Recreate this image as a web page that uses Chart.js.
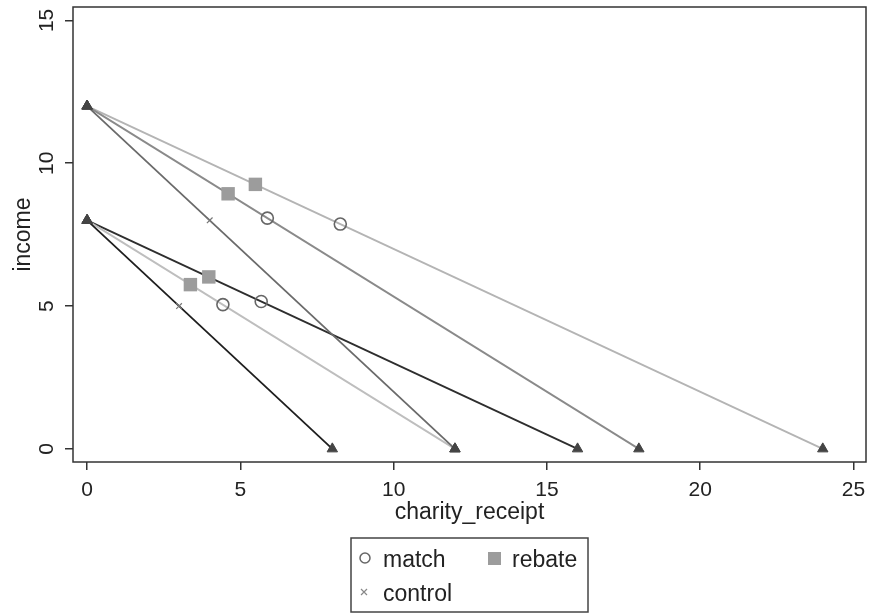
<!DOCTYPE html>
<html>
<head>
<meta charset="utf-8">
<script src="https://cdn.jsdelivr.net/npm/chart.js@4.4.0/dist/chart.umd.min.js"></script>
<style>
  html, body { margin: 0; padding: 0; background: #fff; }
</style>
</head>
<body>
<canvas id="chart" width="870" height="613"></canvas>
<script>
// budget lines: income at charity_receipt = 0, and charity_receipt at income = 0
const lineIncome = [12, 12, 12, 8, 8, 8];
const lineCharity = [12, 18, 24, 8, 12, 16];
const lineColors = ['#6a6a6a', '#8a8a8a', '#b4b4b4', '#1e1e1e', '#bebebe', '#2e2e2e'];

// observed choices
const matchX = [5.88, 8.26, 4.43, 5.68];
const matchY = [8.08, 7.87, 5.05, 5.16];
const rebateX = [4.6, 5.49, 3.37, 3.97];
const rebateY = [8.93, 9.26, 5.75, 6.02];
const controlX = [4, 3];
const controlY = [8, 5];

const xTicks = [0, 5, 10, 15, 20, 25];
const yTicks = [0, 5, 10, 15];

const FONT = "'Liberation Sans', Arial, sans-serif";
const toPoints = (xs, ys) => xs.map((x, i) => ({ x: x, y: ys[i] }));

// one dataset per budget line
const lineSets = lineIncome.map((inc, i) => ({
    label: 'budget' + i,
    data: [{ x: 0, y: inc }, { x: lineCharity[i], y: 0 }],
    showLine: true,
    borderColor: lineColors[i],
    borderWidth: 1.8,
    pointRadius: 0,
    order: 10
}));

// triangles at the ends of each line
const endX = [], endY = [];
lineIncome.forEach((inc, i) => {
    endX.push(0, lineCharity[i]);
    endY.push(inc, 0);
});

const datasets = lineSets.concat([
    {
        label: 'ends',
        data: toPoints(endX, endY),
        pointStyle: 'triangle',
        pointRadius: 6,
        backgroundColor: '#444',
        borderColor: '#444',
        borderWidth: 1,
        order: 2
    },
    {
        label: 'match',
        data: toPoints(matchX, matchY),
        pointStyle: 'circle',
        pointRadius: 6,
        backgroundColor: 'rgba(0,0,0,0)',
        borderColor: '#666',
        borderWidth: 1.6,
        order: 1
    },
    {
        label: 'rebate',
        data: toPoints(rebateX, rebateY),
        pointStyle: 'rect',
        pointRadius: 9.5,
        backgroundColor: '#9c9c9c',
        borderColor: '#9c9c9c',
        borderWidth: 0,
        order: 1
    },
    {
        label: 'control',
        data: toPoints(controlX, controlY),
        pointStyle: 'crossRot',
        pointRadius: 4,
        borderColor: '#777',
        borderWidth: 1.2,
        order: 1
    }
]);

// frame round the plot region
const framePlugin = {
    id: 'frame',
    afterDatasetsDraw(chart) {
        const a = chart.chartArea, ctx = chart.ctx;
        ctx.save();
        ctx.strokeStyle = '#333';
        ctx.lineWidth = 1.5;
        ctx.strokeRect(a.left, a.top, a.right - a.left, a.bottom - a.top);
        ctx.restore();
    }
};

// Stata style legend box under the x title
const legendPlugin = {
    id: 'boxLegend',
    afterDraw(chart) {
        const ctx = chart.ctx;
        const names = chart.data.datasets.map(d => d.label);
        ctx.save();
        ctx.strokeStyle = '#444';
        ctx.lineWidth = 1.5;
        ctx.strokeRect(351, 538, 237, 74);

        ctx.font = '23px ' + FONT;
        ctx.fillStyle = '#222';
        ctx.textBaseline = 'alphabetic';

        // match
        ctx.beginPath();
        ctx.arc(365, 558, 5, 0, Math.PI * 2);
        ctx.strokeStyle = '#666';
        ctx.lineWidth = 1.5;
        ctx.stroke();
        ctx.fillText(names[names.indexOf('match')], 383, 567);

        // rebate
        ctx.fillStyle = '#9c9c9c';
        ctx.fillRect(488, 552, 13, 13);
        ctx.fillStyle = '#222';
        ctx.fillText(names[names.indexOf('rebate')], 512, 567);

        // control
        ctx.beginPath();
        ctx.moveTo(361, 589); ctx.lineTo(367, 595);
        ctx.moveTo(367, 589); ctx.lineTo(361, 595);
        ctx.strokeStyle = '#888';
        ctx.lineWidth = 1.2;
        ctx.stroke();
        ctx.fillText(names[names.indexOf('control')], 383, 601);
        ctx.restore();
    }
};

new Chart(document.getElementById('chart'), {
    type: 'scatter',
    data: { datasets: datasets },
    plugins: [framePlugin, legendPlugin],
    options: {
        responsive: false,
        animation: false,
        layout: { autoPadding: false, padding: { left: 0, top: 7, right: 4, bottom: 83 } },
        plugins: {
            legend: { display: false },
            tooltip: { enabled: false }
        },
        scales: {
            x: {
                type: 'linear',
                min: -0.46,
                max: 25.41,
                afterBuildTicks: s => { s.ticks = xTicks.map(v => ({ value: v })); },
                afterFit: s => { s.height = 68; s.paddingLeft = 0; s.paddingRight = 0; },
                grid: { drawOnChartArea: false, drawTicks: true, tickLength: 8, color: '#333', lineWidth: 1.5 },
                border: { display: false },
                ticks: { color: '#222', padding: 8, font: { family: FONT, size: 21 } },
                title: {
                    display: true,
                    text: 'charity_receipt',
                    color: '#222',
                    font: { family: FONT, size: 23 },
                    padding: { top: 0, bottom: 4 }
                }
            },
            y: {
                type: 'linear',
                min: -0.46,
                max: 15.47,
                afterBuildTicks: s => { s.ticks = yTicks.map(v => ({ value: v })); },
                afterFit: s => { s.width = 73; s.paddingTop = 0; s.paddingBottom = 0; },
                grid: { drawOnChartArea: false, drawTicks: true, tickLength: 8, color: '#333', lineWidth: 1.5 },
                border: { display: false },
                ticks: {
                    color: '#222',
                    padding: 6,
                    minRotation: 90,
                    maxRotation: 90,
                    crossAlign: 'center',
                    font: { family: FONT, size: 21 }
                },
                title: {
                    display: true,
                    text: 'income',
                    color: '#222',
                    font: { family: FONT, size: 23 },
                    padding: { top: 10, bottom: 0 }
                }
            }
        }
    }
});
</script>
</body>
</html>
